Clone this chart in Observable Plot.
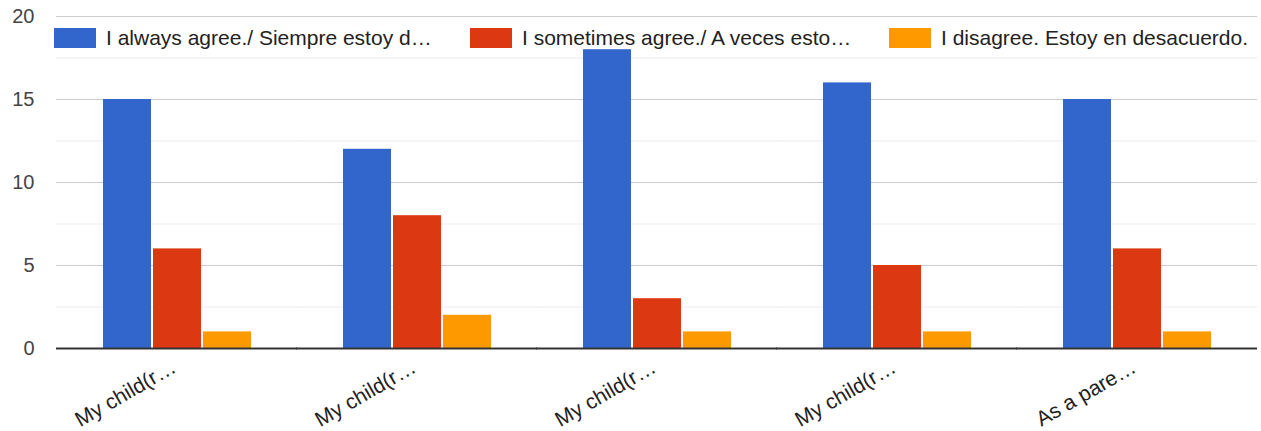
<!DOCTYPE html>
<html>
<head>
<meta charset="utf-8">
<script src="https://cdn.jsdelivr.net/npm/d3@7"></script>
<script src="https://cdn.jsdelivr.net/npm/@observablehq/plot@0.6"></script>
<style>
  html, body { margin: 0; padding: 0; background: #fff; }
  #wrap { position: relative; width: 1261px; height: 431px; font-family: Arial, "Liberation Sans", sans-serif; }
  .legend-item { position: absolute; top: 28px; height: 20px; display: flex; align-items: center; font-size: 21px; color: #222; white-space: nowrap; }
  .swatch { width: 42px; height: 20px; margin-right: 10px; flex: none; }
</style>
</head>
<body>
<div id="wrap"></div>
<script>
const categories = ["My child(r…", "My child(r…", "My child(r…", "My child(r…", "As a pare…"];
const seriesNames = ["I always agree./ Siempre estoy d…", "I sometimes agree./ A veces esto…", "I disagree. Estoy en desacuerdo."];
const seriesColors = ["#3366cc", "#dc3912", "#ff9900"];
const alwaysAgree = [15, 12, 18, 16, 15];
const sometimesAgree = [6, 8, 3, 5, 6];
const disagree = [1, 2, 1, 1, 1];
const yTicks = [0, 5, 10, 15, 20];
const yMinorTicks = [2.5, 7.5, 12.5, 17.5];

const seriesValues = [alwaysAgree, sometimesAgree, disagree];
const data = [];
categories.forEach((c, i) => {
  seriesNames.forEach((s, j) => data.push({cat: i, series: s, value: seriesValues[j][i]}));
});

const ext = -46; // extend rules across gaps between facets
const chart = Plot.plot({
  width: 1261,
  height: 431,
  marginLeft: 54,
  marginRight: 3,
  marginTop: 16,
  marginBottom: 83,
  style: {fontFamily: "Arial, 'Liberation Sans', sans-serif", background: "#fff"},
  fx: {domain: d3.range(categories.length), paddingInner: 0.381, paddingOuter: 0.19, label: null},
  x: {domain: seriesNames, paddingInner: 0.04, paddingOuter: 0, axis: null},
  y: {domain: [0, 20], label: null},
  color: {domain: seriesNames, range: seriesColors},
  marks: [
    Plot.ruleY(yMinorTicks, {stroke: "#ebebeb", strokeWidth: 1, insetLeft: ext, insetRight: ext}),
    Plot.ruleY(yTicks.slice(1), {stroke: "#cccccc", strokeWidth: 1, insetLeft: ext, insetRight: ext}),
    Plot.barY(data, {fx: "cat", x: "series", y: "value", fill: "series"}),
    Plot.ruleY([0], {stroke: "#333333", strokeWidth: 2, insetLeft: ext, insetRight: ext}),
    Plot.axisY({ticks: yTicks, tickSize: 0, tickPadding: 68, fontSize: 20, fill: "#444", label: null}),
    Plot.axisFx({anchor: "bottom", tickSize: 0, tickPadding: 17, tickRotate: -30, fontSize: 21, fill: "#222", label: null, dx: -3, tickFormat: i => categories[i]})
  ]
});

const wrap = document.getElementById("wrap");
chart.style.position = "absolute";
chart.style.left = "0";
chart.style.top = "0";
wrap.appendChild(chart);
const lefts = [54, 470, 889];
seriesNames.forEach((s, j) => {
  const item = document.createElement("div");
  item.className = "legend-item";
  item.style.left = lefts[j] + "px";
  item.innerHTML = `<span class="swatch" style="background:${seriesColors[j]}"></span><span>${s}</span>`;
  wrap.appendChild(item);
});
</script>
</body>
</html>
